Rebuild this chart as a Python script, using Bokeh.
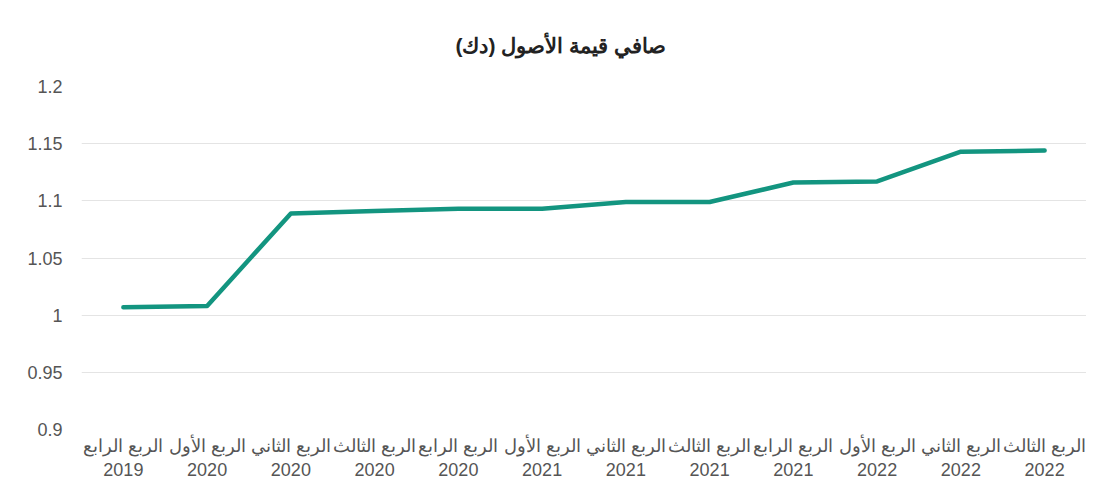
from bokeh.plotting import figure
from bokeh.embed import file_html
from bokeh.resources import INLINE
from bokeh.models import FixedTicker, Range1d

title_text = "صافي قيمة الأصول (دك)"
quarters = ["الربع الرابع", "الربع الأول", "الربع الثاني", "الربع الثالث",
            "الربع الرابع", "الربع الأول", "الربع الثاني", "الربع الثالث",
            "الربع الرابع", "الربع الأول", "الربع الثاني", "الربع الثالث"]
years = ["2019", "2020", "2020", "2020", "2020", "2021", "2021", "2021",
         "2021", "2022", "2022", "2022"]
nav = [1.007, 1.008, 1.089, 1.091, 1.093, 1.093, 1.099, 1.099,
       1.116, 1.117, 1.143, 1.144]
y_ticks = [0.9, 0.95, 1.0, 1.05, 1.1, 1.15, 1.2]
y_tick_labels = ["0.9", "0.95", "1", "1.05", "1.1", "1.15", "1.2"]

cats = [f"{q}\n{y}" for q, y in zip(quarters, years)]

p = figure(width=1086, height=482, x_range=cats, y_range=Range1d(0.9, 1.2),
           output_backend="svg", toolbar_location=None,
           min_border_left=81, min_border_right=0, min_border_bottom=0,
           min_border_top=86)
p.x_range.range_padding = 0

p.title.text = title_text
p.title.align = "left"
p.title.offset = 374
p.title.text_font = "Liberation Sans"
p.title.text_font_size = "21px"
p.title.text_font_style = "bold"
p.title.text_color = "#222222"
p.title.standoff = 60

p.line(x=cats, y=nav, line_color="#139580", line_width=4.5, line_join="round", line_cap="round")

p.yaxis.ticker = FixedTicker(ticks=y_ticks)
p.yaxis.major_label_overrides = {t: l for t, l in zip(y_ticks, y_tick_labels)}

for ax in (p.xaxis, p.yaxis):
    ax.axis_line_color = None
    ax.major_tick_line_color = None
    ax.minor_tick_line_color = None
    ax.major_label_text_font = "Liberation Sans"
    ax.major_label_text_color = "#555555"
p.yaxis.major_label_text_font_size = "18px"
p.xaxis.major_label_text_font_size = "18px"
p.yaxis.major_label_standoff = 13
p.xaxis.major_label_standoff = 0

p.xgrid.grid_line_color = None
p.ygrid.grid_line_color = "#e4e4e4"
p.ygrid.grid_line_width = 1
p.outline_line_color = None
p.background_fill_color = "white"
p.border_fill_color = "white"

open("out.html", "w").write(file_html(p, INLINE))
